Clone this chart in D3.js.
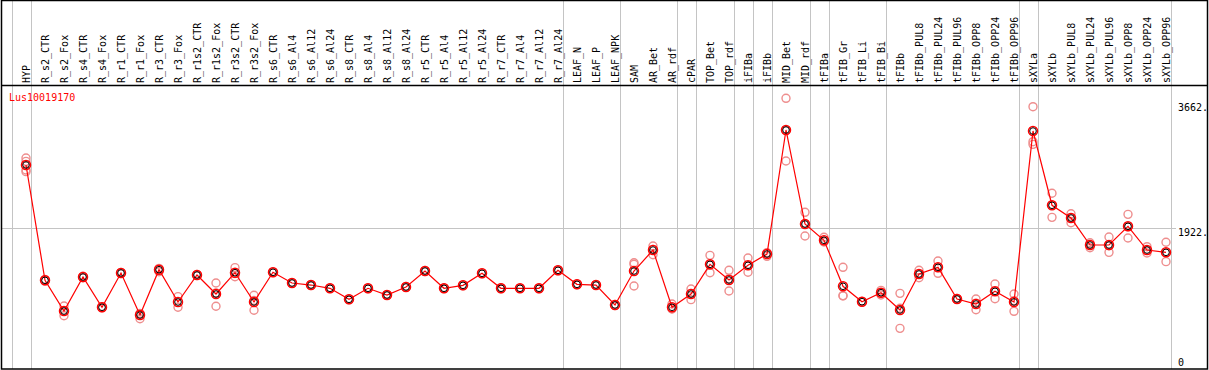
<!DOCTYPE html>
<html>
<head>
<meta charset="utf-8">
<script src="https://cdn.jsdelivr.net/npm/d3@7"></script>
<style>
  body { margin: 0; background: #fff; }
  svg { display: block; font-family: "DejaVu Sans Mono", monospace; font-size: 10px; }
</style>
</head>
<body>
<div id="graph"></div>
<script>
const geneId = "Lus10019170";

const samples = ["HYP","R_s2_CTR","R_s2_Fox","R_s4_CTR","R_s4_Fox","R_r1_CTR","R_r1_Fox","R_r3_CTR","R_r3_Fox",
  "R_r1s2_CTR","R_r1s2_Fox","R_r3s2_CTR","R_r3s2_Fox","R_s6_CTR","R_s6_Al4","R_s6_Al12","R_s6_Al24",
  "R_s8_CTR","R_s8_Al4","R_s8_Al12","R_s8_Al24","R_r5_CTR","R_r5_Al4","R_r5_Al12","R_r5_Al24",
  "R_r7_CTR","R_r7_Al4","R_r7_Al12","R_r7_Al24","LEAF_N","LEAF_P","LEAF_NPK","SAM","AR_Bet","AR_rdf",
  "cPAR","TOP_Bet","TOP_rdf","iFIBa","iFIBb","MID_Bet","MID_rdf","tFIBa","tFIB_Gr","tFIB_Li","tFIB_Bi",
  "tFIBb","tFIBb_PUL8","tFIBb_PUL24","tFIBb_PUL96","tFIBb_OPP8","tFIBb_OPP24","tFIBb_OPP96",
  "sXYLa","sXYLb","sXYLb_PUL8","sXYLb_PUL24","sXYLb_PUL96","sXYLb_OPP8","sXYLb_OPP24","sXYLb_OPP96"];

// sizes of the sample groups separated by grey lines
const groupSizes = [1, 28, 3, 3, 1, 2, 1, 1, 2, 1, 3, 7, 1, 7];

const means = [2826,1172,731,1219,785,1277,674,1324,861,1248,975,1281,861,1287,1133,1104,1057,
  899,1057,961,1076,1305,1057,1100,1272,1057,1057,1057,1315,1114,1104,818,1305,1606,785,
  975,1401,1176,1387,1549,3328,1979,1746,1086,865,994,746,1262,1358,904,832,1014,861,
  3313,2248,2065,1678,1678,1946,1606,1573];

const replicates = [
  [2926,2878,2754,2730],[1185,1172,1160],[803,731,664],[1230,1208],[792,778],[1285,1269],
  [698,690,621],[1334,1342,1295],[937,785],[1255,1241],[1133,990,799],[1353,1268,1223],
  [957,884,742],[1292,1282],[1138,1128],[1110,1098],[1062,1052],[905,893],[1063,1051],
  [967,955],[1082,1070],[1312,1298],[1061,1053],[1106,1094],[1278,1266],[1064,1050],
  [1060,1054],[1063,1051],[1322,1308],[1120,1108],[1109,1099],[825,811],[1401,1424,1090],
  [1664,1615,1539],[832,764,760],[1047,985,894],[1530,1392,1281],[1315,1195,1018],
  [1492,1382,1287],[1568,1563,1516],[3782,3320,2883],[2147,1983,1807],[1789,1725,1724],
  [1358,951,949],[870,860],[1028,993,961],[985,770,483],[1315,1262,1209],[1449,1353,1272],
  [910,898],[904,842,750],[1119,1015,908],[975,881,727],[3662,3160,3122],[2420,2249,2075],
  [2127,2070,1998],[1711,1684,1639],[1793,1668,1573],[2118,1941,1779],[1654,1601,1563],
  [1717,1563,1439]];

const tickValues = [0, 1922, 3662];
const tickLabels = ["0", "1922.", "3662."];
const gridValues = [1922];

const w = 1209;
const h = 370;
const headerBottom = 85;

const xScale = d3.scalePoint().domain(samples).range([26, 1166]);
const step = xScale.step();
const yScale = d3.scaleLinear().domain([0, 1922]).range([362, 228]);

const svg = d3.select("#graph").append("svg")
  .attr("width", w)
  .attr("height", h);

// separator positions: one before the first sample and one after every group
const sepX = [xScale(samples[0]) - step + 4.5];
let idx = -1;
groupSizes.forEach(n => { idx += n; sepX.push(xScale(samples[idx]) + 4.5); });

svg.selectAll(".sep")
  .data(sepX)
  .enter()
  .append("line")
  .attr("class", "sep")
  .attr("x1", d => Math.round(d) + 0.5)
  .attr("x2", d => Math.round(d) + 0.5)
  .attr("y1", 0)
  .attr("y2", h - 1)
  .attr("stroke", "#c4c4c4")
  .attr("stroke-width", 1);

svg.selectAll(".grid")
  .data(gridValues)
  .enter()
  .append("line")
  .attr("class", "grid")
  .attr("x1", 1)
  .attr("x2", 1176)
  .attr("y1", d => Math.round(yScale(d)) + 0.5)
  .attr("y2", d => Math.round(yScale(d)) + 0.5)
  .attr("stroke", "#c4c4c4")
  .attr("stroke-width", 1);

// frame
svg.append("rect")
  .attr("x", 1.5).attr("y", 0.5)
  .attr("width", w - 3).attr("height", h - 1.5)
  .attr("fill", "none").attr("stroke", "#000").attr("stroke-width", 1.5);

svg.append("line")
  .attr("x1", 1).attr("x2", w - 1)
  .attr("y1", headerBottom + 0.5).attr("y2", headerBottom + 0.5)
  .attr("stroke", "#000").attr("stroke-width", 1.5);

// sample labels
svg.selectAll(".lab")
  .data(samples)
  .enter()
  .append("text")
  .attr("class", "lab")
  .attr("transform", d => `translate(${xScale(d) + 3.5},${headerBottom - 2}) rotate(-90)`)
  .attr("fill", "#000")
  .text(d => d);

svg.append("text")
  .attr("x", 9)
  .attr("y", headerBottom + 16)
  .attr("fill", "#ff0000")
  .text(geneId);

// y tick labels
const labelShift = [4, 8, 4];
svg.selectAll(".ytick")
  .data(tickValues)
  .enter()
  .append("text")
  .attr("class", "ytick")
  .attr("x", 1178)
  .attr("y", (d, i) => yScale(d) + labelShift[i])
  .attr("fill", "#000")
  .text((d, i) => tickLabels[i]);

// replicate points
const repPoints = [];
replicates.forEach((r, i) => r.forEach(v => repPoints.push({ s: samples[i], v: v })));

svg.selectAll(".rep")
  .data(repPoints)
  .enter()
  .append("circle")
  .attr("class", "rep")
  .attr("cx", d => xScale(d.s))
  .attr("cy", d => yScale(d.v))
  .attr("r", 4)
  .attr("fill", "none")
  .attr("stroke", "#ee8e8e")
  .attr("stroke-width", 1.4);

const line = d3.line()
  .x((d, i) => xScale(samples[i]))
  .y(d => yScale(d));

svg.append("path")
  .datum(means)
  .attr("d", line)
  .attr("fill", "none")
  .attr("stroke", "#ff0000")
  .attr("stroke-width", 1.2);

svg.selectAll(".meanO")
  .data(means)
  .enter()
  .append("circle")
  .attr("class", "meanO")
  .attr("cx", (d, i) => xScale(samples[i]))
  .attr("cy", d => yScale(d))
  .attr("r", 4.5)
  .attr("fill", "none")
  .attr("stroke", "#ff0000")
  .attr("stroke-width", 1.5);

svg.selectAll(".meanI")
  .data(means)
  .enter()
  .append("circle")
  .attr("class", "meanI")
  .attr("cx", (d, i) => xScale(samples[i]))
  .attr("cy", d => yScale(d))
  .attr("r", 3.3)
  .attr("fill", "none")
  .attr("stroke", "#000")
  .attr("stroke-width", 1);
</script>
</body>
</html>
